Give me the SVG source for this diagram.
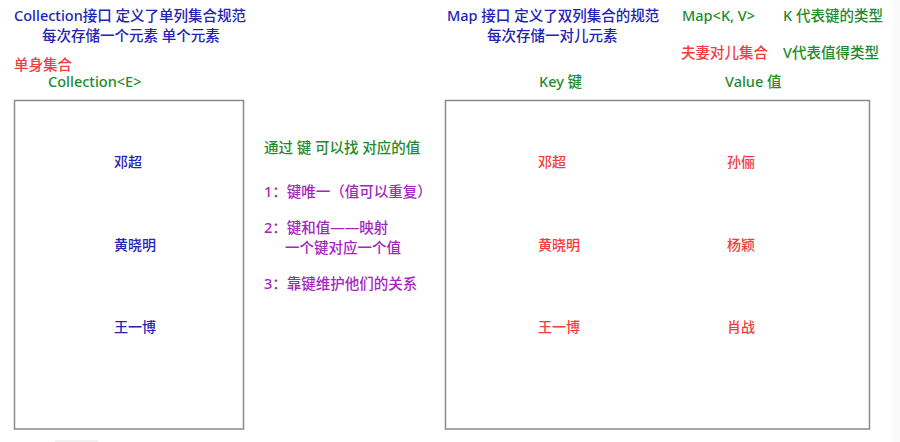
<svg xmlns="http://www.w3.org/2000/svg" width="900" height="442" viewBox="0 0 900 442">
<style>
text{font-family:"Noto Sans","Noto Sans CJK SC",sans-serif;font-size:14.5px;font-weight:500}
.blue{fill:#2323b4}
.red{fill:#f23c3c}
.green{fill:#1e8c2d}
.purple{fill:#a526bd}
.box{fill:#fff;stroke:#8a8a8a;stroke-width:1.5}
.name{font-size:14px}
</style>
<rect x="0" y="0" width="900" height="442" fill="#fff"/>
<rect x="893" y="0" width="7" height="442" fill="#fafafa"/>
<rect x="55" y="440" width="43" height="2" fill="#f2f2f2"/>

<g id="collection-header">
<text class="blue" x="14" y="21">Collection接口 定义了单列集合规范</text>
<text class="blue" x="42" y="41">每次存储一个元素 单个元素</text>
<text class="red" x="14" y="70">单身集合</text>
<text class="green" x="48" y="87">Collection&lt;E&gt;</text>
</g>

<g id="collection-box">
<rect class="box" x="14.5" y="100.5" width="229" height="328.5"/>
<text class="blue name" x="114" y="167">邓超</text>
<text class="blue name" x="114" y="250">黄晓明</text>
<text class="blue name" x="114" y="332">王一博</text>
</g>

<g id="notes">
<text class="green" x="264" y="153">通过 键 可以找 对应的值</text>
<text class="purple" x="264" y="197">1：键唯一（值可以重复）</text>
<text class="purple" x="264" y="233">2：键和值——映射</text>
<text class="purple" x="285" y="253">一个键对应一个值</text>
<text class="purple" x="264" y="289">3：靠键维护他们的关系</text>
</g>

<g id="map-header">
<text class="blue" x="447" y="21">Map 接口 定义了双列集合的规范</text>
<text class="blue" x="487" y="41">每次存储一对儿元素</text>
<text class="green" x="682" y="21">Map&lt;K, V&gt;</text>
<text class="green" x="783" y="21">K 代表键的类型</text>
<text class="red" x="681" y="58">夫妻对儿集合</text>
<text class="green" x="783" y="58">V代表值得类型</text>
<text class="green" x="539" y="87">Key 键</text>
<text class="green" x="725" y="87">Value 值</text>
</g>

<g id="map-box">
<rect class="box" x="445.5" y="100.5" width="424" height="328.5"/>
<text class="red name" x="538" y="167">邓超</text>
<text class="red name" x="538" y="250">黄晓明</text>
<text class="red name" x="538" y="332">王一博</text>
<text class="red name" x="727" y="167">孙俪</text>
<text class="red name" x="727" y="250">杨颖</text>
<text class="red name" x="727" y="332">肖战</text>
</g>

<g id="connectors"></g>
</svg>
